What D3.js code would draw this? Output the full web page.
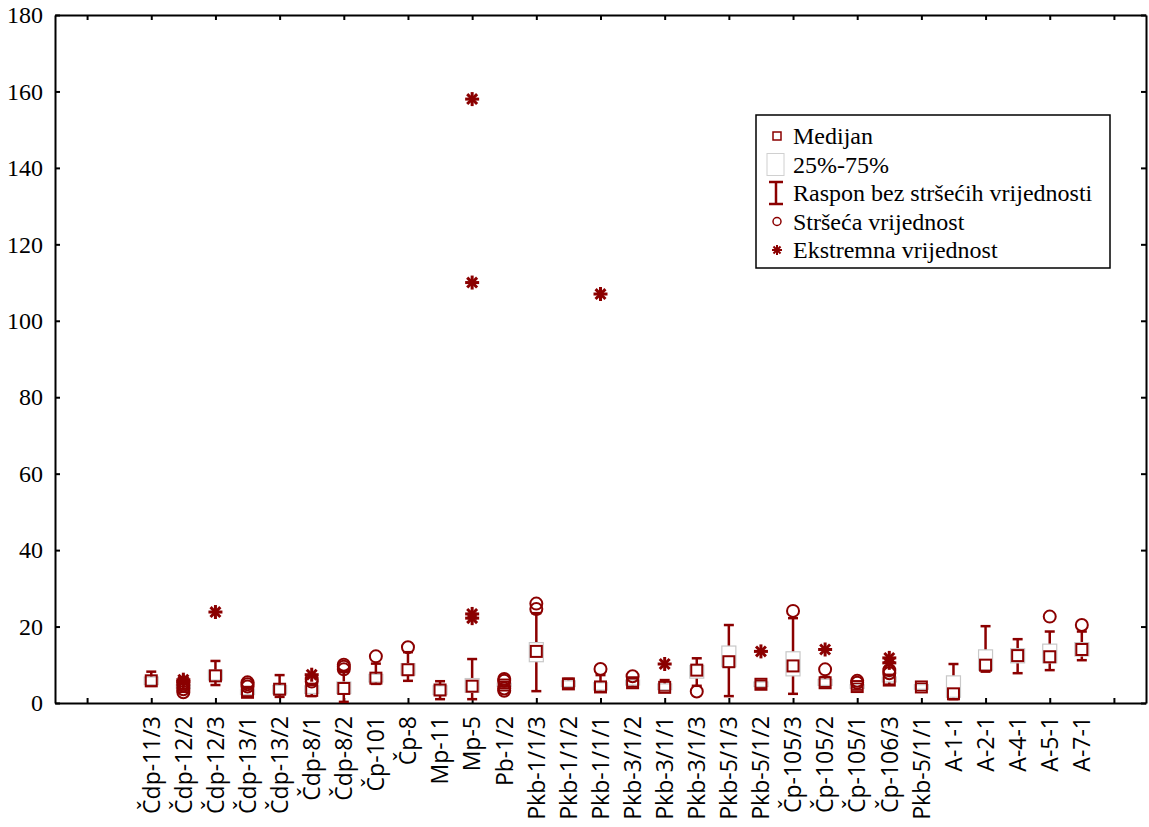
<!DOCTYPE html>
<html>
<head>
<meta charset="utf-8">
<script src="https://cdn.jsdelivr.net/npm/d3@7"></script>
<style>
  body { margin: 0; background: #fff; }
  .axis path, .axis line { stroke: #000; stroke-width: 2px; }
  .axis text { font-family: "Liberation Serif", "Times New Roman", serif; font-size: 24px; fill: #000; }
  .catlabel { font-family: "Open Sans", sans-serif; font-size: 23px; fill: #000; }
  .legend text { font-family: "Liberation Serif", "Times New Roman", serif; font-size: 24px; fill: #000; }
</style>
</head>
<body>
<script>
var width = 1149,
  height = 827;

var mark = "#8b0000";

var categories = [
  'Čdp-11/3', 'Čdp-12/2', 'Čdp-12/3', 'Čdp-13/1', 'Čdp-13/2', 'Čdp-8/1', 'Čdp-8/2',
  'Čp-101', 'Čp-8', 'Mp-11', 'Mp-5', 'Pb-1/2', 'Pkb-1/1/3', 'Pkb-1/1/2', 'Pkb-1/1/1',
  'Pkb-3/1/2', 'Pkb-3/1/1', 'Pkb-3/1/3', 'Pkb-5/1/3', 'Pkb-5/1/2', 'Čp-105/3', 'Čp-105/2',
  'Čp-105/1', 'Čp-106/3', 'Pkb-5/1/1', 'A-1-1', 'A-2-1', 'A-4-1', 'A-5-1', 'A-7-1'
];

var medians = [5.8, 4.3, 7.1, 2.8, 3.6, 3.3, 3.8, 6.5, 8.7, 3.4, 4.4, 4.7, 13.5, 5.0, 4.2,
  5.3, 4.1, 8.6, 10.8, 4.9, 9.7, 5.3, 4.3, 6.0, 4.2, 2.4, 9.9, 12.4, 12.1, 14.0];
var q1 = [4.8, 3.8, 6.0, 2.2, 2.4, 2.5, 2.5, 5.5, 7.3, 2.2, 2.8, 4.3, 10.8, 4.3, 3.4,
  4.7, 3.5, 6.5, 9.5, 4.3, 7.1, 4.6, 3.8, 5.5, 3.6, 1.5, 8.6, 10.5, 10.5, 12.3];
var q3 = [6.8, 4.8, 8.6, 3.6, 4.6, 4.5, 5.5, 7.5, 10.3, 4.5, 6.4, 5.2, 15.8, 5.8, 5.3,
  6.0, 5.0, 9.8, 14.9, 5.5, 13.4, 6.2, 4.8, 6.8, 4.8, 7.1, 13.9, 14.2, 15.4, 15.8];
var whiskerLow = [4.5, 3.5, 4.7, 1.8, 1.6, 1.8, 0.3, 5.0, 5.8, 1.0, 1.0, 3.9, 3.1, 4.0, 3.0,
  4.3, 3.3, 4.5, 1.8, 4.0, 2.4, 4.3, 3.5, 4.8, 3.4, 1.0, 8.2, 7.8, 8.6, 11.2];
var whiskerHigh = [8.2, 5.0, 11.0, 4.0, 7.3, 5.0, 8.2, 10.3, 13.3, 5.7, 11.5, 5.5, 23.5, 6.3, 7.3,
  6.3, 6.0, 11.7, 20.4, 5.8, 22.2, 6.8, 5.0, 7.2, 5.0, 10.2, 20.1, 16.7, 18.7, 18.7];
var outliers = [
  [], [2.8, 3.6, 4.6, 5.2], [], [4.3, 4.9, 5.4], [], [5.6, 6.2], [8.8, 9.5, 10.0],
  [12.2], [14.6], [], [], [3.2, 3.8, 5.8, 6.3], [24.6, 26.0], [], [8.9],
  [7.0], [], [3.0], [], [], [24.1], [8.8],
  [5.3, 5.8], [7.8, 8.6], [], [], [], [], [22.6], [20.4]
];
var extremes = [
  [], [5.6, 6.1], [23.8], [], [], [7.4], [],
  [], [], [], [158, 110, 23.3, 22.2], [], [], [], [107],
  [], [10.2], [], [], [13.5], [], [14.0],
  [], [10.5, 11.8], [], [], [], [], [], []
];

var yTicks = [0, 20, 40, 60, 80, 100, 120, 140, 160, 180];

var legendLabels = ['Medijan', '25%-75%', 'Raspon bez stršećih vrijednosti', 'Stršeća vrijednost', 'Ekstremna vrijednost'];

var margin = { left: 55, right: 3, top: 15, bottom: 124 };

var x = d3.scaleLinear()
  .domain([-3, categories.length + 1])
  .range([margin.left, width - margin.right]);

var y = d3.scaleLinear()
  .domain([0, 180])
  .range([height - margin.bottom, margin.top]);

var svg = d3.select("body").append("svg")
  .attr("width", width)
  .attr("height", height);

var xTickVals = d3.range(-2, categories.length + 1, 2);

// frame with inward ticks
svg.append("g")
  .attr("class", "axis")
  .attr("transform", "translate(0," + y(0) + ")")
  .call(d3.axisBottom(x).tickValues(xTickVals).tickSize(-5).tickSizeOuter(0).tickFormat(""));

svg.append("g")
  .attr("class", "axis")
  .attr("transform", "translate(0," + y(180) + ")")
  .call(d3.axisTop(x).tickValues(xTickVals).tickSize(-5).tickSizeOuter(0).tickFormat(""));

svg.append("g")
  .attr("class", "axis")
  .attr("transform", "translate(" + x.range()[0] + ",0)")
  .call(d3.axisLeft(y).tickValues(yTicks).tickSize(-5).tickSizeOuter(0).tickPadding(12));

svg.append("g")
  .attr("class", "axis")
  .attr("transform", "translate(" + x.range()[1] + ",0)")
  .call(d3.axisRight(y).tickValues(yTicks).tickSize(-5).tickSizeOuter(0).tickFormat(""));

// category labels
svg.selectAll("text.catlabel")
  .data(categories)
  .enter().append("text")
    .attr("class", "catlabel")
    .attr("text-anchor", "end")
    .attr("dy", "0.36em")
    .attr("transform", function(d, i) {
      return "translate(" + x(i) + "," + (y(0) + 13) + ") rotate(-90)";
    })
    .text(function(d) { return d; });

var boxes = svg.selectAll("g.box")
  .data(categories)
  .enter().append("g")
    .attr("class", "box")
    .attr("transform", function(d, i) { return "translate(" + x(i) + ",0)"; });

// whiskers
boxes.append("line")
  .attr("y1", function(d, i) { return y(whiskerLow[i]); })
  .attr("y2", function(d, i) { return y(whiskerHigh[i]); })
  .attr("stroke", mark)
  .attr("stroke-width", 2.5);

boxes.append("line")
  .attr("x1", -5).attr("x2", 5)
  .attr("y1", function(d, i) { return y(whiskerHigh[i]); })
  .attr("y2", function(d, i) { return y(whiskerHigh[i]); })
  .attr("stroke", mark)
  .attr("stroke-width", 2.5);

boxes.append("line")
  .attr("x1", -5).attr("x2", 5)
  .attr("y1", function(d, i) { return y(whiskerLow[i]); })
  .attr("y2", function(d, i) { return y(whiskerLow[i]); })
  .attr("stroke", mark)
  .attr("stroke-width", 2.5);

// 25%-75% box
boxes.append("rect")
  .attr("x", -7)
  .attr("width", 14)
  .attr("y", function(d, i) { return y(q3[i]); })
  .attr("height", function(d, i) { return y(q1[i]) - y(q3[i]); })
  .attr("fill", "#fff")
  .attr("stroke", "#c8c8c8")
  .attr("stroke-width", 1.2);

// median square
boxes.append("rect")
  .attr("x", -5.5)
  .attr("width", 11)
  .attr("y", function(d, i) { return y(medians[i]) - 5.5; })
  .attr("height", 11)
  .attr("fill", "none")
  .attr("stroke", mark)
  .attr("stroke-width", 2);

// outliers
boxes.selectAll("circle")
  .data(function(d, i) { return outliers[i]; })
  .enter().append("circle")
    .attr("cy", function(v) { return y(v); })
    .attr("r", 6)
    .attr("fill", "none")
    .attr("stroke", mark)
    .attr("stroke-width", 2);

function star(sel, size, sw) {
  var r = size / 2;
  d3.range(4).forEach(function(k) {
    var a = k * Math.PI / 4;
    sel.append("line")
      .attr("x1", -r * Math.cos(a)).attr("y1", -r * Math.sin(a))
      .attr("x2", r * Math.cos(a)).attr("y2", r * Math.sin(a))
      .attr("stroke", mark)
      .attr("stroke-width", sw);
  });
}

boxes.selectAll("g.extreme")
  .data(function(d, i) { return extremes[i]; })
  .enter().append("g")
    .attr("class", "extreme")
    .attr("transform", function(v) { return "translate(0," + y(v) + ")"; })
    .each(function() { star(d3.select(this), 14, 3); });

// legend
var legend = svg.append("g")
  .attr("class", "legend")
  .attr("transform", "translate(756,115)");

legend.append("rect")
  .attr("width", 354)
  .attr("height", 153)
  .attr("fill", "#fff")
  .attr("stroke", "#000")
  .attr("stroke-width", 1.5);

var rowY = function(i) { return 21 + i * 28.5; };

legend.selectAll("text")
  .data(legendLabels)
  .enter().append("text")
    .attr("x", 37)
    .attr("y", function(d, i) { return rowY(i); })
    .attr("dy", "0.35em")
    .text(function(d) { return d; });

legend.append("rect")
  .attr("x", 17).attr("y", rowY(0) - 4)
  .attr("width", 8).attr("height", 8)
  .attr("fill", "none").attr("stroke", mark).attr("stroke-width", 1.5);

legend.append("rect")
  .attr("x", 11).attr("y", rowY(1) - 11)
  .attr("width", 17).attr("height", 22)
  .attr("fill", "#fff").attr("stroke", "#d0d0d0").attr("stroke-width", 1);

var ib = legend.append("g").attr("transform", "translate(20," + rowY(2) + ")");
ib.append("line").attr("y1", -11).attr("y2", 11).attr("stroke", mark).attr("stroke-width", 2.5);
ib.append("line").attr("x1", -7).attr("x2", 7).attr("y1", -11).attr("y2", -11).attr("stroke", mark).attr("stroke-width", 2.5);
ib.append("line").attr("x1", -7).attr("x2", 7).attr("y1", 11).attr("y2", 11).attr("stroke", mark).attr("stroke-width", 2.5);

legend.append("circle")
  .attr("cx", 21).attr("cy", rowY(3))
  .attr("r", 4)
  .attr("fill", "none").attr("stroke", mark).attr("stroke-width", 1.5);

star(legend.append("g").attr("transform", "translate(21," + rowY(4) + ")"), 10, 2);
</script>
</body>
</html>
